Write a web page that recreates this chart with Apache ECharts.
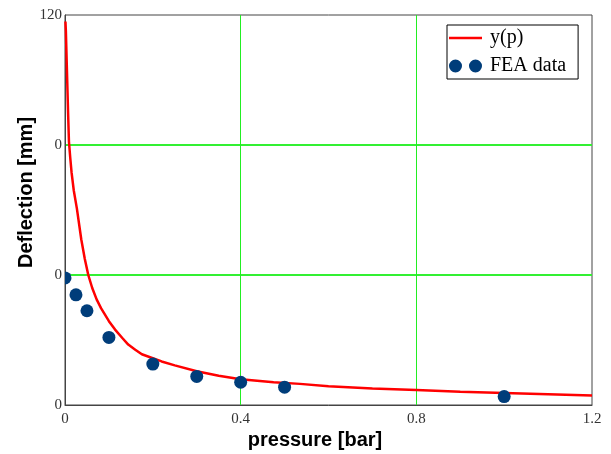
<!DOCTYPE html>
<html>
<head>
<meta charset="utf-8">
<script src="https://cdn.jsdelivr.net/npm/echarts@6/dist/echarts.min.js"></script>
<style>html,body{margin:0;padding:0;background:#fff}#c{width:611px;height:454px}</style>
</head>
<body>
<div id="c"></div>
<script>
// Curve y(p)
var curveP = [0.001, 0.002, 0.003, 0.005, 0.007, 0.009, 0.012, 0.015, 0.02, 0.027, 0.037, 0.045, 0.053, 0.062, 0.072, 0.082, 0.091, 0.1, 0.114, 0.13, 0.144, 0.16, 0.175, 0.2, 0.22, 0.25, 0.3, 0.35, 0.4, 0.475, 0.535, 0.6, 0.7, 0.8, 0.9, 1.0, 1.1, 1.2];
var curveY = [118, 115, 110, 100, 90, 81, 76, 71.5, 66, 60.5, 51, 45, 40, 36, 32.5, 29.8, 27.8, 25.8, 23.2, 20.7, 18.6, 17, 15.6, 14.4, 13.4, 12.2, 10.4, 9.0, 7.9, 7.0, 6.5, 5.8, 5.1, 4.6, 4.1, 3.7, 3.3, 2.9];
// FEA data points
var feaP = [0, 0.025, 0.05, 0.1, 0.2, 0.3, 0.4, 0.5, 1.0];
var feaY = [39.1, 33.9, 29.0, 20.8, 12.6, 8.8, 7.0, 5.5, 2.6];
// Tick labels as shown
var xTickLabels = ['0', '0.4', '0.8', '1.2'];
var yTickLabels = ['0', '0', '0', '120'];

var curveData = curveP.map(function (p, i) { return [p, curveY[i]]; });
var feaData = feaP.map(function (p, i) { return [p, feaY[i]]; });

var chart = echarts.init(document.getElementById('c'));
var twoDots = 'path://M0,6.5a6.5,6.5 0 1,0 13,0a6.5,6.5 0 1,0 -13,0ZM20,6.5a6.5,6.5 0 1,0 13,0a6.5,6.5 0 1,0 -13,0Z';
var lineIcon = 'path://M0,0L33,0L33,2.5L0,2.5Z';
chart.setOption({
  animation: false,
  backgroundColor: '#fff',
  grid: { left: 65, right: 19, top: 15, bottom: 49, outerBoundsMode: 'none', containLabel: false,
    show: true, borderColor: '#444', borderWidth: 1, backgroundColor: 'transparent' },
  legend: {
    orient: 'vertical',
    left: 447, top: 25,
    padding: [3, 12, 3, 2],
    itemWidth: 33, itemHeight: 13, itemGap: 8,
    symbolKeepAspect: true,
    borderColor: '#000', borderWidth: 1,
    textStyle: { fontFamily: 'Liberation Serif', fontSize: 20, lineHeight: 20, color: '#000', padding: [0, 0, 0, 3] },
    data: [
      { name: 'y(p)', icon: lineIcon },
      { name: 'FEA data', icon: twoDots }
    ]
  },
  xAxis: {
    type: 'value', min: 0, max: 1.2, interval: 0.4,
    name: 'pressure [bar]', nameLocation: 'middle', nameGap: 25, nameMoveOverlap: false,
    nameTextStyle: { fontFamily: 'Liberation Sans', fontWeight: 'bold', fontSize: 20, color: '#000', padding: [0, 27, 0, 0] },
    axisLine: { show: true, lineStyle: { color: '#444', width: 1 } },
    axisTick: { show: false },
    axisLabel: { margin: 7, fontFamily: 'Liberation Serif', fontSize: 15, color: '#333',
      formatter: function (v) { return xTickLabels[Math.round(v / 0.4)]; } },
    splitLine: { show: true, showMinLine: false, showMaxLine: false, lineStyle: { color: '#22ee22', width: 1 } }
  },
  yAxis: {
    type: 'value', min: 0, max: 120, interval: 40,
    name: 'Deflection [mm]', nameLocation: 'middle', nameGap: 29, nameRotate: 90, nameMoveOverlap: false,
    nameTextStyle: { fontFamily: 'Liberation Sans', fontWeight: 'bold', fontSize: 20, color: '#000', padding: [0, 0, 0, 35] },
    axisLine: { show: true, lineStyle: { color: '#444', width: 1 } },
    axisTick: { show: false },
    axisLabel: { margin: 3, fontFamily: 'Liberation Serif', fontSize: 15, color: '#333',
      formatter: function (v) { return yTickLabels[Math.round(v / 40)]; } },
    splitLine: { show: true, showMinLine: false, showMaxLine: false, lineStyle: { color: '#33f033', width: 2 } }
  },
  series: [
    {
      name: 'y(p)', type: 'line', data: curveData, symbol: 'none', showSymbol: false,
      smooth: false, lineStyle: { color: '#ff0000', width: 2.5 }, itemStyle: { color: '#ff0000' }, z: 3
    },
    {
      name: 'FEA data', type: 'custom', data: feaData, clip: true,
      encode: { x: 0, y: 1 },
      itemStyle: { color: '#003d7a' },
      renderItem: function (params, api) {
        var pt = api.coord([api.value(0), api.value(1)]);
        return { type: 'circle', shape: { cx: pt[0], cy: pt[1], r: 6.5 }, style: { fill: '#003d7a' } };
      },
      z: 4
    }
  ]
});
</script>
</body>
</html>
